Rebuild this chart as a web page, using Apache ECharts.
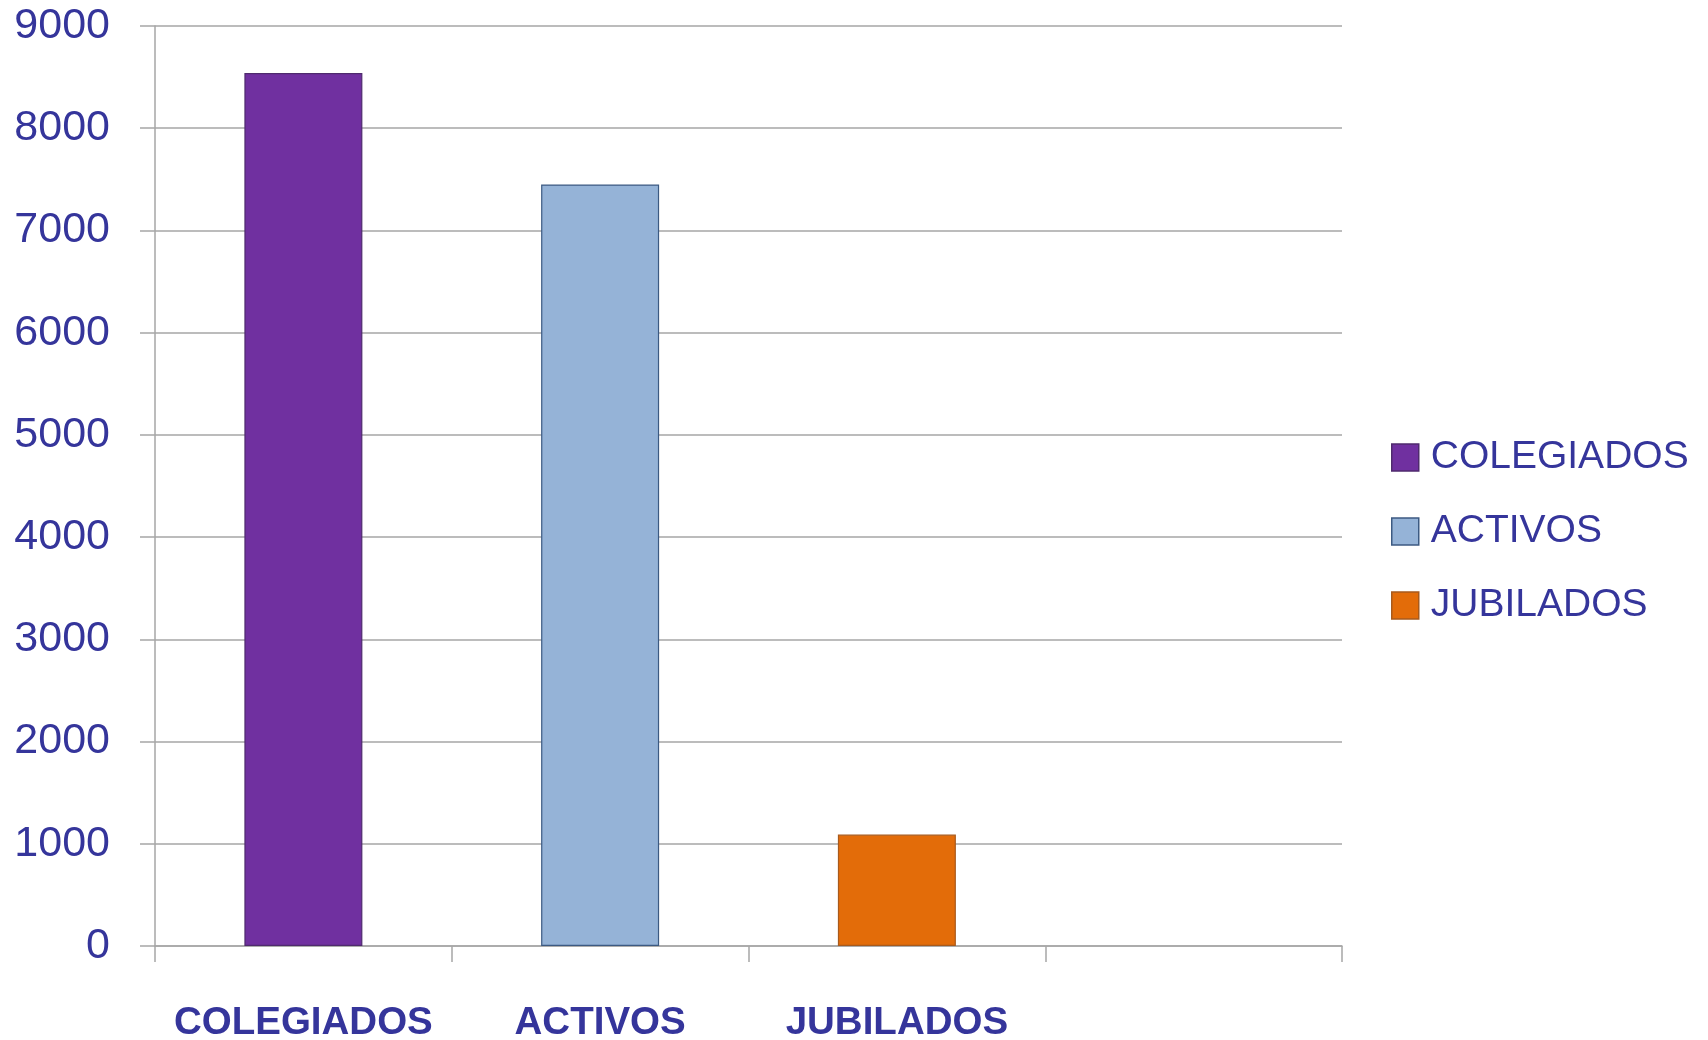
<!DOCTYPE html>
<html>
<head>
<meta charset="utf-8">
<script src="https://cdn.jsdelivr.net/npm/echarts@6/dist/echarts.min.js"></script>
<style>
html,body{margin:0;padding:0;background:#fff;}
#chart{width:1708px;height:1040px;}
</style>
</head>
<body>
<div id="chart"></div>
<script>
const categories = ['COLEGIADOS', 'ACTIVOS', 'JUBILADOS', ''];
const seriesNames = ['COLEGIADOS', 'ACTIVOS', 'JUBILADOS'];
const seriesValues = [8540, 7450, 1090];
const yTicks = { min: 0, max: 9000, interval: 1000 };

const colors = ['#7030a0', '#95b3d7', '#e36c09'];
const borders = ['#4f2a6e', '#3c5a82', '#a85a1c'];
const textColor = '#35359b';

const chart = echarts.init(document.getElementById('chart'));
const series = seriesNames.map((name, i) => ({
  name: name,
  type: 'bar',
  stack: 'all',
  barWidth: 118,
  data: categories.map((c, j) => (j === i ? seriesValues[i] : '-')),
  itemStyle: { color: colors[i], borderColor: borders[i], borderWidth: 1.2 }
}));

chart.setOption({
  animation: false,
  backgroundColor: '#ffffff',
  grid: { left: 155, right: 366, top: 26, bottom: 94, containLabel: false, outerBoundsMode: 'none' },
  legend: {
    orient: 'vertical',
    left: 1386,
    top: 433,
    itemWidth: 27,
    itemHeight: 27,
    itemGap: 35,
    icon: 'rect',
    data: seriesNames,
    itemStyle: { borderWidth: 1.5 },
    textStyle: { color: textColor, fontSize: 39, fontFamily: 'Liberation Sans, Arial, sans-serif', lineHeight: 34, padding: [0, 0, 0, 7] }
  },
  xAxis: {
    type: 'category',
    data: categories,
    boundaryGap: true,
    axisLine: { show: true, lineStyle: { color: '#a6a6a6', width: 1.5 } },
    axisTick: { show: true, length: 16, interval: 0, lineStyle: { color: '#a6a6a6', width: 1.5 } },
    axisLabel: {
      interval: 0,
      margin: 58,
      color: textColor,
      fontSize: 38.5,
      fontWeight: 'bold',
      fontFamily: 'Liberation Sans, Arial, sans-serif',
      lineHeight: 38
    },
    splitLine: { show: false }
  },
  yAxis: {
    type: 'value',
    min: yTicks.min,
    max: yTicks.max,
    interval: yTicks.interval,
    axisLine: { show: true, lineStyle: { color: '#a6a6a6', width: 1.5 } },
    axisTick: { show: true, length: 15, lineStyle: { color: '#a6a6a6', width: 1.5 } },
    axisLabel: { margin: 45, color: textColor, fontSize: 43, fontFamily: 'Liberation Sans, Arial, sans-serif', formatter: v => String(v) },
    splitLine: { show: true, lineStyle: { color: '#a6a6a6', width: 1.5 } }
  },
  series: series
});
</script>
</body>
</html>
